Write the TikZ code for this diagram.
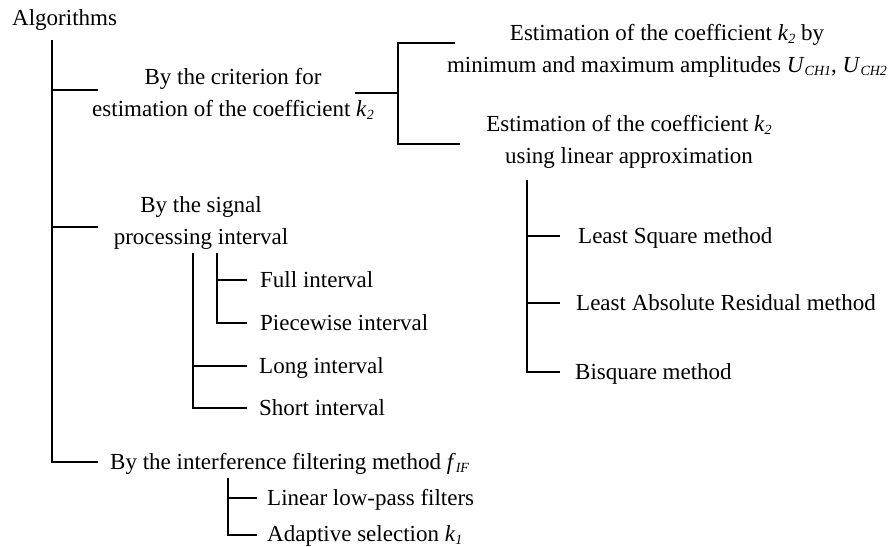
\documentclass[tikz,border=0pt]{standalone}
\usepackage{fontspec}
\setmainfont{Liberation Serif}
\newcommand\ssub[1]{\raisebox{-0.25ex}{\fontsize{14}{14}\selectfont\itshape #1}}
\newcommand\kk[1]{\textit{k}\ssub{#1}}
\begin{document}
\begin{tikzpicture}[x=1pt,y=-1pt,
  lbl/.style={inner sep=0pt,anchor=base west,font=\fontsize{23}{32}\selectfont},
  mlbl/.style={inner sep=0pt,anchor=center,align=center,font=\fontsize{23}{32}\selectfont},
  conn/.style={line width=1.5pt,line cap=butt}]
\useasboundingbox (0,0) rectangle (893,546);

% nodes
\node[lbl] (alg) at (12,25) {Algorithms};
\node[mlbl] (crit) at (233,94) {By the criterion for\\estimation of the coefficient \kk{2}};
\node[mlbl] (est1) at (667,51) {Estimation of the coefficient \kk{2} by\\minimum and maximum amplitudes \textit{U}\ssub{CH1}, \textit{U}\ssub{CH2}};
\node[mlbl] (est2) at (629,142) {Estimation of the coefficient \kk{2}\\using linear approximation};
\node[lbl] (lsq) at (578,243.5) {Least Square method};
\node[lbl] (lar) at (576,310.5) {Least Absolute Residual method};
\node[lbl] (bis) at (575,379.5) {Bisquare method};
\node[mlbl] (sig) at (201,222.5) {By the signal\\processing interval};
\node[lbl] (full) at (260,287.5) {Full interval};
\node[lbl] (piece) at (260,330.5) {Piecewise interval};
\node[lbl] (long) at (259,373.5) {Long interval};
\node[lbl] (short) at (259,415.5) {Short interval};
\node[lbl] (interf) at (110,469.5) {By the interference filtering method \textit{f}\ssub{IF}};
\node[lbl] (lin) at (267,505.5) {Linear low-pass filters};
\node[lbl] (adapt) at (267,541.5) {Adaptive selection \kk{1}};

% junction coordinates
\coordinate (a0) at (52,40);
\coordinate (a1) at (98,90);
\coordinate (a2) at (98,227);
\coordinate (a3) at (98,462);
\coordinate (c0) at (355,93);
\coordinate (c1) at (398,93);
\coordinate (c2) at (455,43);
\coordinate (c3) at (460,144);
\coordinate (e0) at (527,180);
\coordinate (e1) at (560,236);
\coordinate (e2) at (560,303);
\coordinate (e3) at (560,372);
\coordinate (s0) at (193,253);
\coordinate (s1) at (217,253);
\coordinate (s2) at (247,280);
\coordinate (s3) at (247,323);
\coordinate (s4) at (247,366);
\coordinate (s5) at (247,408);
\coordinate (f0) at (228,478);
\coordinate (f1) at (257,498);
\coordinate (f2) at (257,535);

% connectors
\draw[conn] (a0) |- (a3);
\draw[conn] (a0 |- a1) -- (a1);
\draw[conn] (a0 |- a2) -- (a2);
\draw[conn] (c0) -- (c1);
\draw[conn] (c2) -| (c1) |- (c3);
\draw[conn] (e0) |- (e3);
\draw[conn] (e0 |- e1) -- (e1);
\draw[conn] (e0 |- e2) -- (e2);
\draw[conn] (s0) |- (s5);
\draw[conn] (s0 |- s4) -- (s4);
\draw[conn] (s1) |- (s3);
\draw[conn] (s1 |- s2) -- (s2);
\draw[conn] (f0) |- (f2);
\draw[conn] (f0 |- f1) -- (f1);
\end{tikzpicture}
\end{document}
